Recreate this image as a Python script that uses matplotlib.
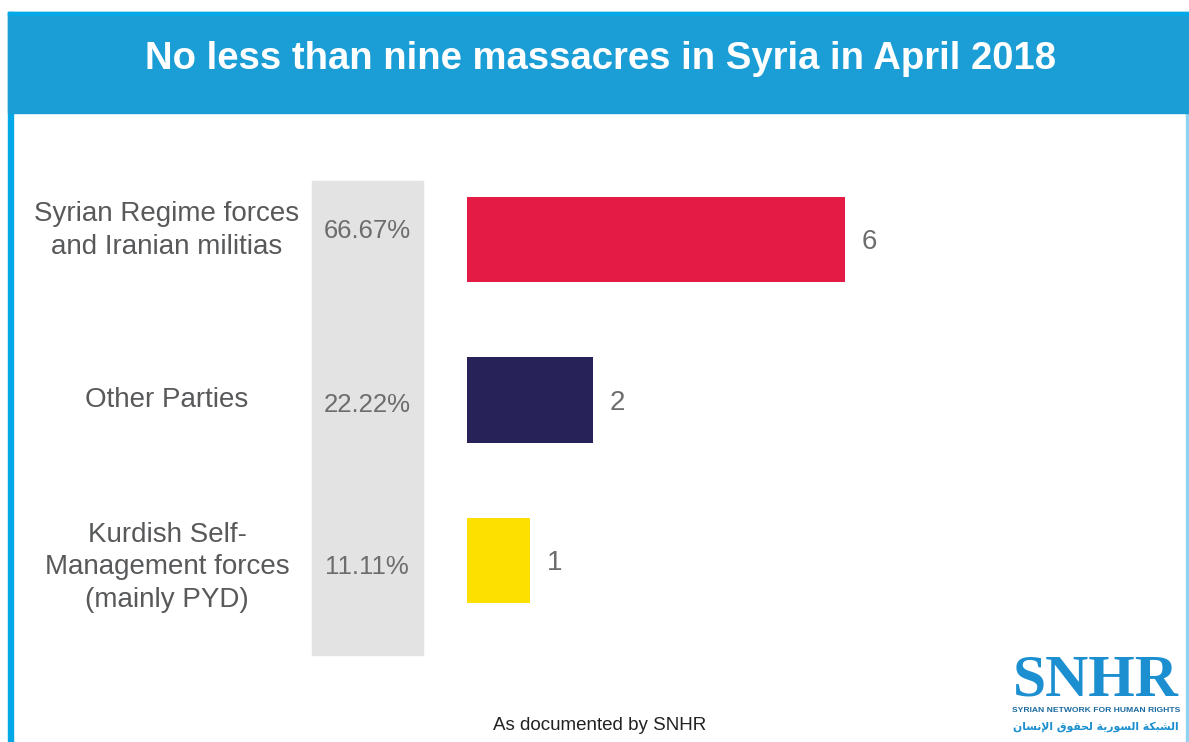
import matplotlib.pyplot as plt
import matplotlib.transforms as mtransforms
from matplotlib.patches import Rectangle

# data
categories = ['Syrian Regime forces\nand Iranian militias',
              'Other Parties',
              'Kurdish Self-\nManagement forces\n(mainly PYD)']
massacres = [6, 2, 1]
bar_colors = ['#e41b45', '#272358', '#fde000']
title = 'No less than nine massacres in Syria in April 2018'
footer = 'As documented by SNHR'

# small vertical nudges (pixels, down positive) to mimic the hand layout
label_nudge = [-9, 0, 7]
pct_nudge = [-9, 5, 6]

W, H = 1189, 742
plt.rcParams['font.family'] = ['Liberation Sans', 'DejaVu Sans']
fig = plt.figure(figsize=(W / 100, H / 100), dpi=100)
fig.patch.set_facecolor('white')


def px(x, y, w, h):
    # pixel box (top-left origin) -> figure fraction rect
    return [x / W, 1 - (y + h) / H, w / W, h / H]


def box(x, y, w, h, color):
    fig.patches.append(Rectangle(px(x, y, w, h)[:2], w / W, h / H, transform=fig.transFigure,
                                 color=color, zorder=-1))


# frame and header band
box(8, 12, 5, 730, '#05a8e6')
box(1186, 112, 2, 630, '#8fd3f1')
box(8, 12, 1181, 101, '#1b9dd6')
box(8, 12, 1181, 3, '#05a8e6')
fig.text(0.505, 1 - 59 / H, title, ha='center', va='center', color='white',
         fontsize=27.5, fontweight='bold')

# grey percentage column
box(312, 181, 111, 474, '#e4e3e4')

ax = fig.add_axes(px(467, 159.25, 630, 481.5))
ax.set_facecolor('none')
ypos = list(range(len(categories)))
ax.barh(ypos, massacres, height=0.53, color=bar_colors)
ax.set_xlim(0, 10)
ax.set_ylim(2.5, -0.5)
ax.axis('off')

total = sum(massacres)
trans = mtransforms.blended_transform_factory(fig.transFigure, ax.transData)
for y, cat, v, ln, pn in zip(ypos, categories, massacres, label_nudge, pct_nudge):
    t1 = trans + mtransforms.ScaledTranslation(0, -ln / 100, fig.dpi_scale_trans)
    t2 = trans + mtransforms.ScaledTranslation(0, -pn / 100, fig.dpi_scale_trans)
    ax.text(167 / W, y, cat, transform=t1, ha='center', va='center',
            fontsize=20, color='#58595b', linespacing=1.32, multialignment='center')
    ax.text(367 / W, y, '%.2f%%' % (v / total * 100), transform=t2,
            ha='center', va='center', fontsize=18.5, color='#6d6d6d')
    ax.annotate(str(v), (v, y), xytext=(12, -2), textcoords='offset points',
                ha='left', va='center', fontsize=20, color='#6d6d6d')

fig.text(600 / W, 1 - 725 / H, footer, ha='center', va='center', fontsize=13.5, color='#222222')

# logo
fig.text(1096 / W, 1 - 681 / H, 'SNHR', ha='center', va='center', fontsize=43,
         fontweight='bold', family='Liberation Serif', color='#1c8fd0')
fig.text(1096 / W, 1 - 711 / H, 'SYRIAN NETWORK FOR HUMAN RIGHTS', ha='center', va='center',
         fontsize=6.1, fontweight='bold', family=['Liberation Sans Narrow', 'Liberation Sans'],
         color='#1a6aa0')
arabic = ('\uFEE5\uFE8E\uFEB4\uFEE7\uFEF9\uFE8D \uFED5\uFEEE\uFED8\uFEA4\uFEDF '
          '\uFE94\uFEF3\uFEAD\uFEEE\uFEB4\uFEDF\uFE8D \uFE94\uFEDC\uFE92\uFEB8\uFEDF\uFE8D')
fig.text(1096 / W, 1 - 727 / H, arabic, ha='center', va='center', fontsize=7.8,
         fontweight='bold', family='DejaVu Sans', color='#1b8fd0')

fig.savefig('out.png', dpi=100)
